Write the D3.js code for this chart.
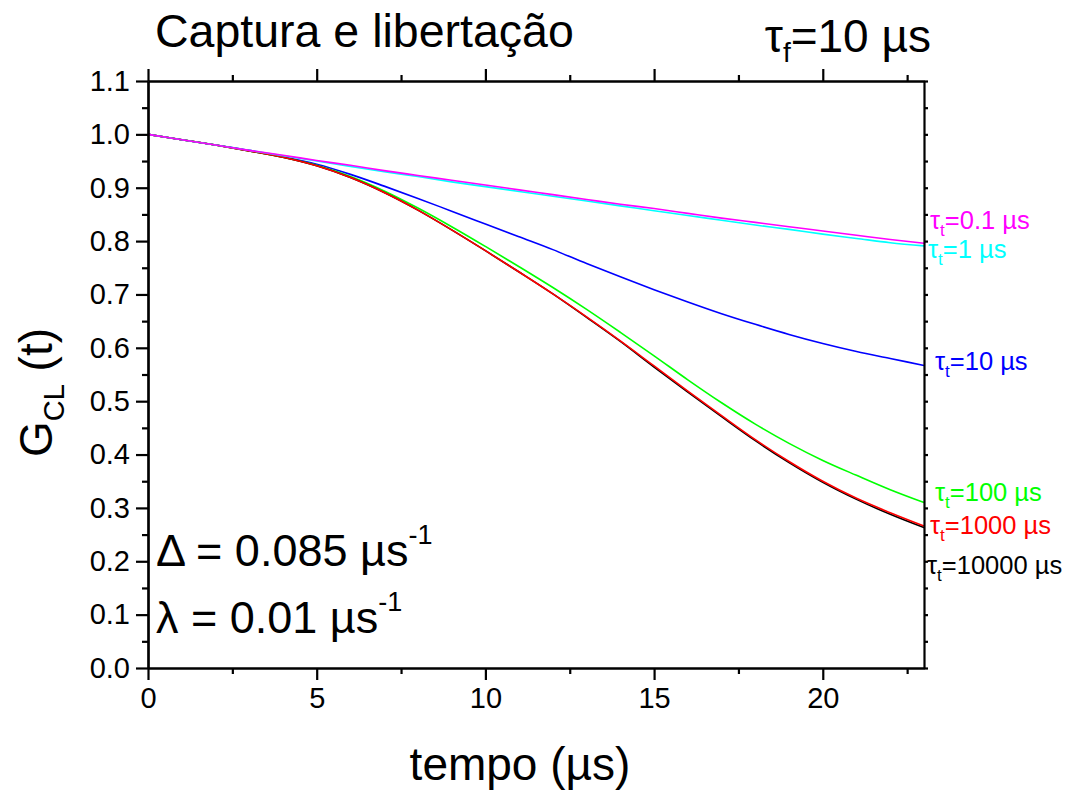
<!DOCTYPE html>
<html>
<head>
<meta charset="utf-8">
<script src="https://cdn.jsdelivr.net/npm/d3@7"></script>
<style>
  html, body { margin: 0; padding: 0; background: #fff; }
  svg { display: block; font-family: "Liberation Sans", Arial, sans-serif; }
</style>
</head>
<body>
<svg id="chart" width="1066" height="794"></svg>
<script>
// ---- data ----
const tempo = [0,1,2,3,4,5,6,7,8,9,10,11,12,13,14,15,16,17,18,19,20,21,22,23];
const g_tau01 =   [1.000,0.990,0.980,0.970,0.961,0.951,0.942,0.932,0.923,0.914,0.905,0.896,0.887,0.878,0.869,0.861,0.852,0.843,0.835,0.827,0.819,0.811,0.803,0.796];
const g_tau1 =    [1.000,0.990,0.980,0.970,0.960,0.950,0.940,0.930,0.921,0.911,0.902,0.893,0.884,0.875,0.866,0.857,0.848,0.839,0.830,0.822,0.813,0.805,0.797,0.791];
const g_tau10 =   [1.000,0.990,0.980,0.970,0.958,0.944,0.925,0.903,0.880,0.856,0.832,0.808,0.784,0.758,0.733,0.709,0.686,0.664,0.644,0.625,0.608,0.593,0.580,0.567];
const g_tau100 =  [1.000,0.990,0.980,0.969,0.957,0.942,0.921,0.894,0.862,0.827,0.790,0.752,0.713,0.672,0.629,0.585,0.540,0.497,0.457,0.421,0.389,0.361,0.334,0.310];
const g_tau1000 = [1.000,0.990,0.980,0.969,0.957,0.941,0.919,0.891,0.858,0.821,0.782,0.742,0.701,0.658,0.613,0.566,0.519,0.473,0.428,0.387,0.350,0.318,0.291,0.266];
const g_tau10000 =[1.000,0.990,0.980,0.969,0.957,0.941,0.919,0.891,0.858,0.821,0.782,0.742,0.701,0.657,0.612,0.564,0.517,0.471,0.426,0.385,0.348,0.316,0.288,0.263];

const seriesNames = ["0.1","1","10","100","1000","10000"];
const seriesColors = ["#ff00ff","#00ffff","#0000ff","#00ff00","#ff0000","#000000"];
const seriesValues = [g_tau01,g_tau1,g_tau10,g_tau100,g_tau1000,g_tau10000];

const yMajorTicks = [0,0.1,0.2,0.3,0.4,0.5,0.6,0.7,0.8,0.9,1.0,1.1];
const yMinorTicks = [0.05,0.15,0.25,0.35,0.45,0.55,0.65,0.75,0.85,0.95,1.05];
const xMajorTicks = [0,5,10,15,20];
const xMinorTicks = [2.5,7.5,12.5,17.5,22.5];

// ---- layout ----
const L = 148, R = 924, T = 81, B = 668;
const FONT = "Liberation Sans, Arial, sans-serif";
const svg = d3.select("#chart");
const x = d3.scaleLinear().domain([0,23]).range([L,R]);
const y = d3.scaleLinear().domain([0,1.1]).range([B,T]);

// curves (drawn first, axes on top)
const line = d3.line().x((d,i)=>x(tempo[i])).y(d=>y(d)).curve(d3.curveMonotoneX);
const order = [2,3,5,4,1,0];
svg.append("g").selectAll("path").data(order).join("path")
  .attr("d", k => line(seriesValues[k]))
  .attr("fill","none")
  .attr("stroke", k => seriesColors[k])
  .attr("stroke-width",1.6);

function styleAxis(g){
  g.selectAll(".domain").attr("stroke","#000").attr("stroke-width",2.2);
  g.selectAll(".tick line").attr("stroke","#000").attr("stroke-width",2.2);
  g.selectAll("text").attr("fill","#000").attr("font-family",FONT);
}

// left axis
svg.append("g").attr("transform",`translate(${L},0)`)
  .call(d3.axisLeft(y).tickValues(yMajorTicks).tickSize(12).tickSizeOuter(0).tickPadding(6).tickFormat(d3.format(".1f")))
  .call(g=>g.selectAll("text").attr("font-size",29))
  .call(styleAxis);
svg.append("g").attr("transform",`translate(${L},0)`)
  .call(d3.axisLeft(y).tickValues(yMinorTicks).tickSize(6).tickSizeOuter(0).tickFormat(""))
  .call(styleAxis);
// right axis
svg.append("g").attr("transform",`translate(${R},0)`)
  .call(d3.axisRight(y).tickValues(yMajorTicks.concat(yMinorTicks)).tickSize(4).tickSizeOuter(0).tickFormat(""))
  .call(styleAxis);
// bottom axis
svg.append("g").attr("transform",`translate(0,${B})`)
  .call(d3.axisBottom(x).tickValues(xMajorTicks).tickSize(12).tickSizeOuter(0).tickPadding(7).tickFormat(d3.format("d")))
  .call(g=>g.selectAll("text").attr("font-size",29))
  .call(styleAxis);
svg.append("g").attr("transform",`translate(0,${B})`)
  .call(d3.axisBottom(x).tickValues(xMinorTicks).tickSize(6).tickSizeOuter(0).tickFormat(""))
  .call(styleAxis);
// top axis
svg.append("g").attr("transform",`translate(0,${T})`)
  .call(d3.axisTop(x).tickValues(xMajorTicks).tickSize(12).tickSizeOuter(0).tickFormat(""))
  .call(styleAxis);
svg.append("g").attr("transform",`translate(0,${T})`)
  .call(d3.axisTop(x).tickValues(xMinorTicks).tickSize(6).tickSizeOuter(0).tickFormat(""))
  .call(styleAxis);

// titles
svg.append("text").attr("x",155).attr("y",47).attr("font-size",46.5).text("Captura e libertação");
const tf = svg.append("text").attr("x",931).attr("y",52).attr("font-size",46).attr("text-anchor","end");
tf.append("tspan").text("τ");
tf.append("tspan").attr("font-size",28).attr("dy",10).text("f");
tf.append("tspan").attr("dy",-10).text("=10 µs");

// x label
svg.append("text").attr("x",520).attr("y",780).attr("text-anchor","middle").attr("font-size",46).text("tempo (µs)");

// y label
const yl = svg.append("text").attr("transform",`translate(52,${(T+B)/2+18}) rotate(-90)`).attr("text-anchor","middle").attr("font-size",46);
yl.append("tspan").text("G");
yl.append("tspan").attr("font-size",29).attr("dy",12).text("CL");
yl.append("tspan").attr("dy",-12).text(" (t)");

// annotations
const a1 = svg.append("text").attr("x",156).attr("y",566).attr("font-size",45);
a1.append("tspan").text("Δ = 0.085 µs");
a1.append("tspan").attr("font-size",27).attr("dy",-22).text("-1");
const a2 = svg.append("text").attr("x",156).attr("y",633).attr("font-size",45);
a2.append("tspan").text("λ = 0.01 µs");
a2.append("tspan").attr("font-size",27).attr("dy",-22).text("-1");

// right-side series labels
const labelPos = [[930,229],[928,258],[935,370],[935,501],[930,534],[927,574]];
seriesNames.forEach((nm,k)=>{
  const t = svg.append("text").attr("x",labelPos[k][0]).attr("y",labelPos[k][1])
    .attr("font-size", 25.5).attr("fill",seriesColors[k]);
  t.append("tspan").text("τ");
  t.append("tspan").attr("font-size",17).attr("dy",7).text("t");
  t.append("tspan").attr("dy",-7).text("=" + nm + " µs");
});
</script>
</body>
</html>
